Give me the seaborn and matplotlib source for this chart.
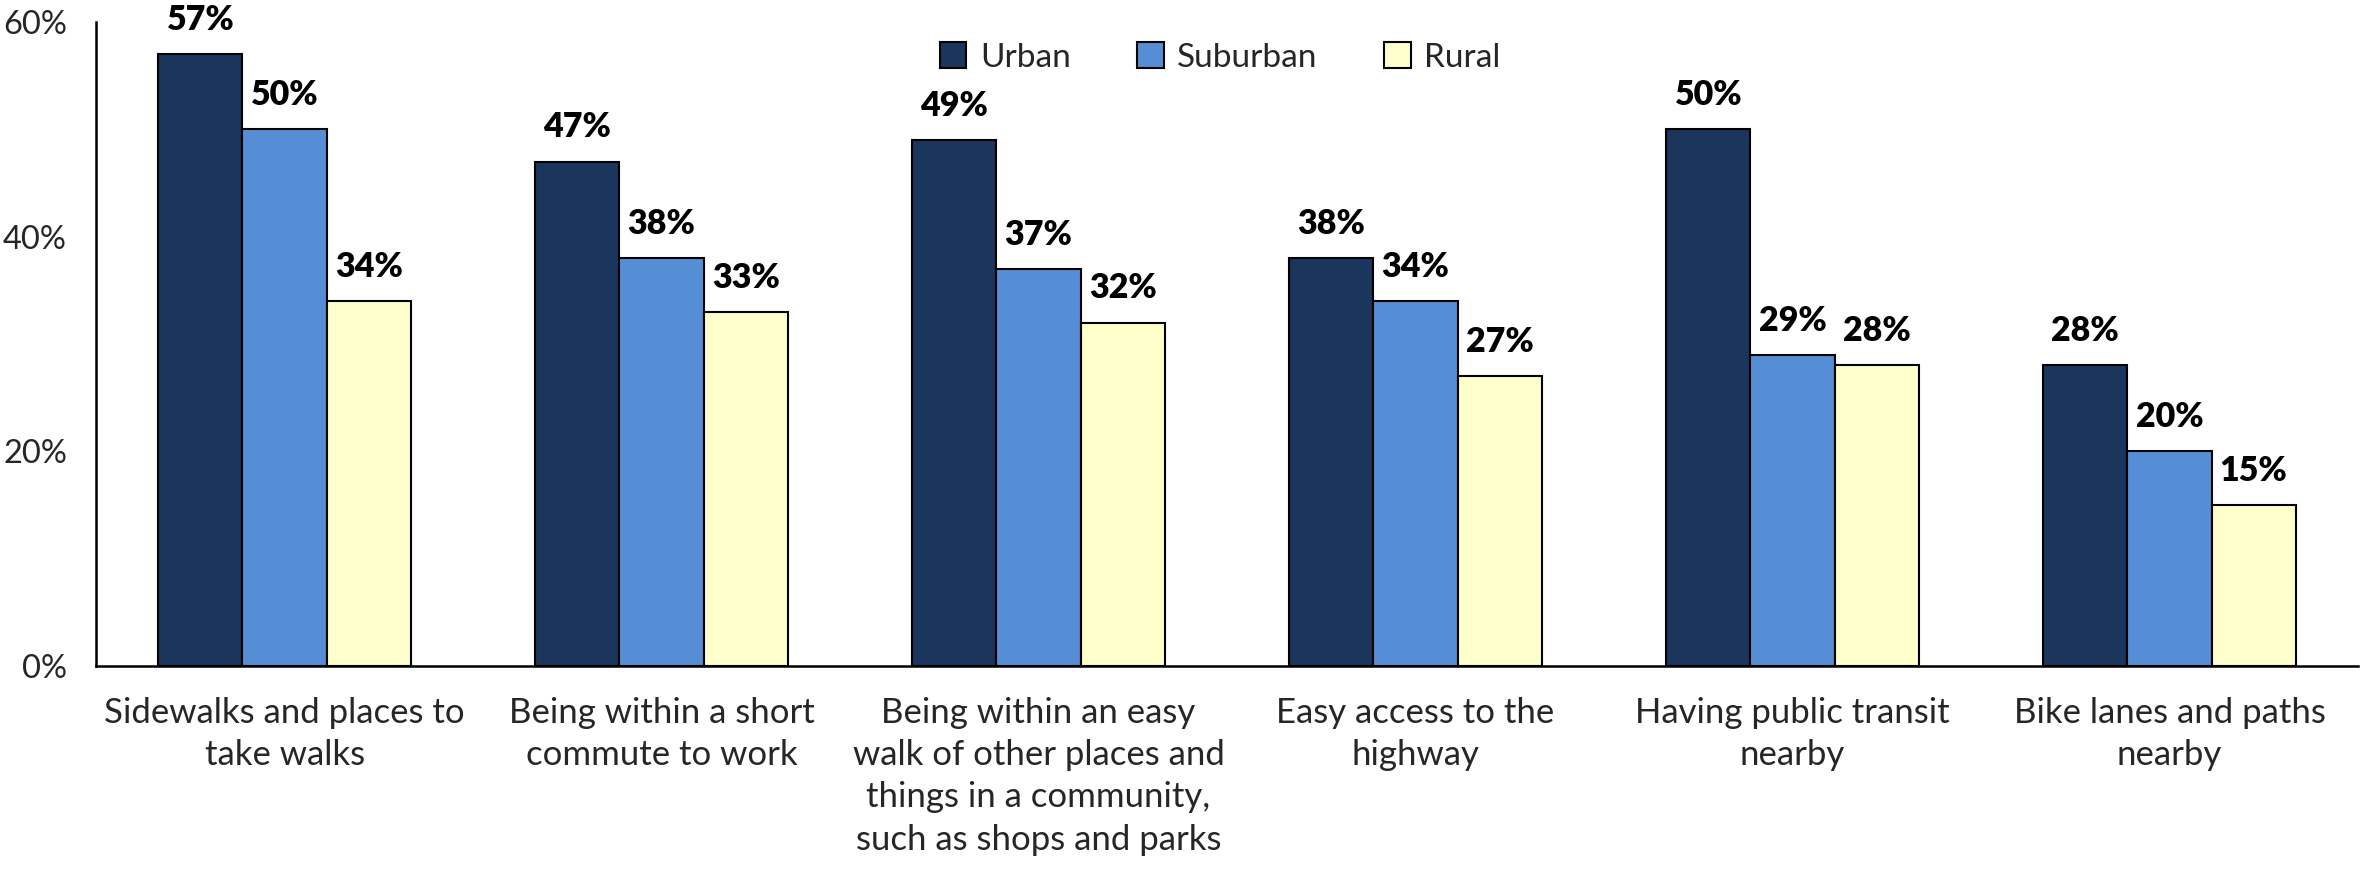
import matplotlib
matplotlib.use("Agg")
import matplotlib.pyplot as plt
import seaborn as sns
import pandas as pd

categories = [
    "Sidewalks and places to\ntake walks",
    "Being within a short\ncommute to work",
    "Being within an easy\nwalk of other places and\nthings in a community,\nsuch as shops and parks",
    "Easy access to the\nhighway",
    "Having public transit\nnearby",
    "Bike lanes and paths\nnearby",
]
series = ["Urban", "Suburban", "Rural"]
urban = [57, 47, 49, 38, 50, 28]
suburban = [50, 38, 37, 34, 29, 20]
rural = [34, 33, 32, 27, 28, 15]
yticks = [0, 20, 40, 60]
ytick_labels = ["0%", "20%", "40%", "60%"]
colors = ["#1A365D", "#558ED5", "#FFFFCC"]

rows = []
for name, vals in zip(series, [urban, suburban, rural]):
    for c, v in zip(categories, vals):
        rows.append({"category": c, "area": name, "value": v})
df = pd.DataFrame(rows)

sns.set_theme(style="white")
plt.rcParams["font.family"] = ["Lato", "DejaVu Sans"]

fig = plt.figure(figsize=(23.61, 8.71), dpi=100)
ax = fig.add_axes([0.0407, 0.2354, 0.958, 0.7393])

sns.barplot(data=df, x="category", y="value", hue="area", order=categories,
            hue_order=series, palette=colors, width=0.67, edgecolor="black",
            linewidth=1.5, saturation=1, ax=ax, legend=True)

for cont in ax.containers:
    ax.bar_label(cont, labels=[f"{int(v)}%" for v in cont.datavalues],
                 padding=13, fontsize=24.5, fontweight="heavy", color="black")

ax.set_xlim(-0.5, 5.5)
ax.set_ylim(0, 60)
ax.set_yticks(yticks)
ax.set_yticklabels(ytick_labels, fontsize=23.5)
ax.tick_params(axis="y", length=0, pad=21)
ax.tick_params(axis="x", length=0, pad=22, labelsize=25)
ax.set_xlabel("")
ax.set_ylabel("")
for s in ["top", "right"]:
    ax.spines[s].set_visible(False)
for s in ["left", "bottom"]:
    ax.spines[s].set_color("black")
    ax.spines[s].set_linewidth(1.8)
ax.spines["left"].set_bounds(0, 60)
for lab in ax.get_xticklabels():
    lab.set_linespacing(1.4)

handles, labels = ax.get_legend_handles_labels()
ax.legend(handles, labels, loc="upper center", bbox_to_anchor=(0.497, 1.015),
          ncol=3, frameon=False, fontsize=24, handlelength=0.8, handleheight=0.8,
          columnspacing=2.0, handletextpad=0.4)

fig.savefig("out.png", dpi=100)
